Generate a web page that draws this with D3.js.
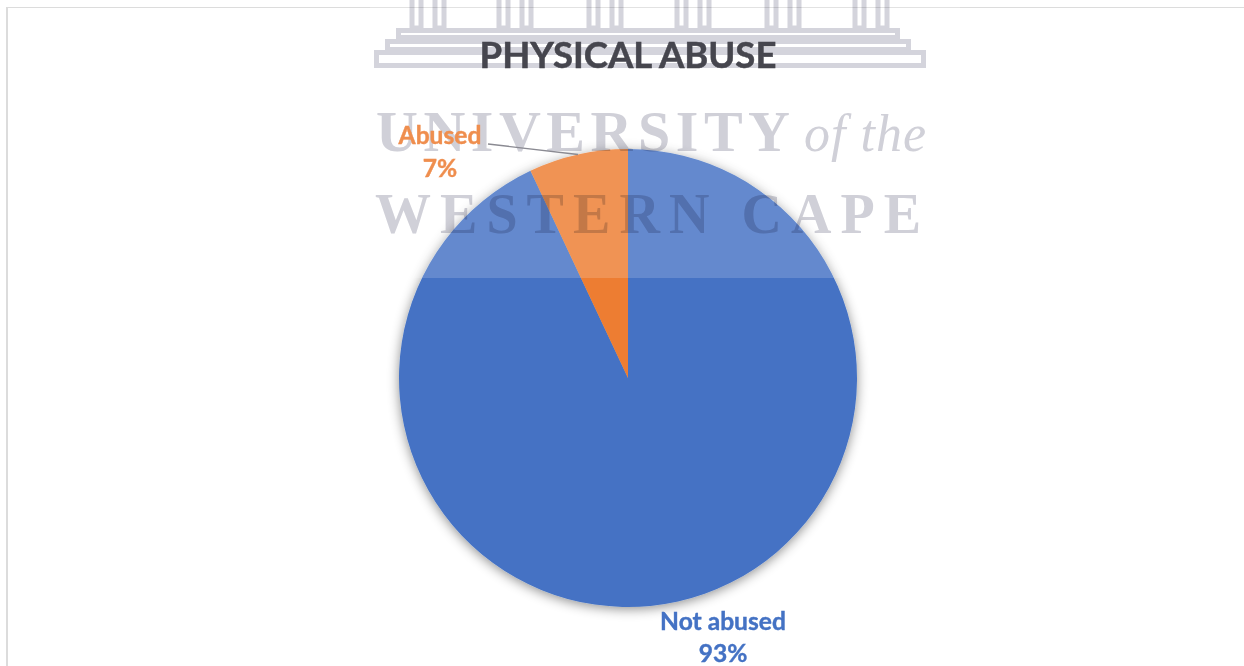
<!DOCTYPE html>
<html>
<head>
<meta charset="utf-8">
<script src="https://cdn.jsdelivr.net/npm/d3@7/dist/d3.min.js"></script>
<style>
  html, body { margin: 0; padding: 0; background: #fff; }
  svg { display: block; }
  text { font-family: Lato, "Open Sans", sans-serif; font-weight: 700; }
</style>
</head>
<body>
<svg id="chart" width="1244" height="666"></svg>
<script>
const categories = ["Not abused", "Abused"];
const percentages = [93, 7];
const sliceColors = ["#4472C4", "#ED7D31"];
const labelColors = ["#4472C4", "#EF8E4E"];
const chartTitle = "PHYSICAL ABUSE";
const crestColumns = [410, 497, 587, 675, 765, 853];
const crestSteps = [[396, 900, 28, 40], [385, 911, 39, 52], [374, 926, 50, 68]];

const svg = d3.select("#chart");
const cx = 628, cy = 378, radius = 229;

const defs = svg.append("defs");
const shadow = defs.append("filter").attr("id", "pieShadow")
  .attr("x", "-10%").attr("y", "-10%").attr("width", "120%").attr("height", "120%");
shadow.append("feDropShadow")
  .attr("dx", 0).attr("dy", 2).attr("stdDeviation", 6)
  .attr("flood-color", "#000").attr("flood-opacity", 0.45);
defs.append("filter").attr("id", "soften")
  .append("feGaussianBlur").attr("stdDeviation", 0.6);

// Chart frame: only the top and left edges fall inside the page
svg.append("rect").attr("x", 6).attr("y", 7).attr("width", 1238).attr("height", 1).attr("fill", "#dcdcdc");
svg.append("rect").attr("x", 6).attr("y", 7).attr("width", 2).attr("height", 659).attr("fill", "#dcdcdc");

// Pie, clockwise from twelve o'clock in data order
const pie = d3.pie().sort(null).value(d => d);
const arcs = pie(percentages);
const arc = d3.arc().innerRadius(0).outerRadius(radius);

const pieGroup = svg.append("g")
  .attr("transform", `translate(${cx},${cy})`)
  .attr("filter", "url(#pieShadow)");
pieGroup.selectAll("path")
  .data(arcs)
  .join("path")
  .attr("d", arc)
  .attr("fill", (d, i) => sliceColors[i]);

// Institutional letterhead lying over the upper part of the page
svg.append("rect").attr("x", 370).attr("y", 0).attr("width", 590).attr("height", 278)
  .attr("fill", "#fff").attr("opacity", 0.17);

const crest = svg.append("g")
  .style("mix-blend-mode", "multiply")
  .attr("filter", "url(#soften)");

const crestStroke = "#d4d4dc";
crestColumns.forEach(x => {
  [0, 23].forEach(dx => {
    crest.append("rect")
      .attr("x", x + dx + 2).attr("y", -4).attr("width", 9).attr("height", 32)
      .attr("fill", "none").attr("stroke", crestStroke).attr("stroke-width", 5);
  });
});
crestSteps.forEach(([x0, x1, y0, y1]) => {
  crest.append("rect")
    .attr("x", x0 + 2.5).attr("y", y0 + 2.5)
    .attr("width", x1 - x0 - 5).attr("height", y1 - y0 - 5)
    .attr("fill", "#fff").attr("stroke", crestStroke).attr("stroke-width", 5);
});

const crestText = (s, x, y, len, size, italic) => crest.append("text")
  .attr("x", x).attr("y", y)
  .attr("textLength", len).attr("lengthAdjust", "spacing")
  .style("font-family", "'Liberation Serif', serif")
  .style("font-weight", italic ? 400 : 700)
  .style("font-style", italic ? "italic" : "normal")
  .style("font-size", size + "px")
  .attr("fill", "#d0d0d8")
  .text(s);

crestText("UNIVERSITY", 376, 151, 414, 58, false);
crestText("of the", 804, 151, 122, 52, true);
crestText("WESTERN CAPE", 375, 233, 546, 56, false);

// Title and data labels
svg.append("text")
  .attr("x", 628).attr("y", 68)
  .attr("text-anchor", "middle")
  .attr("stroke", "#46464e").attr("stroke-width", 0.5)
  .style("font-size", "36.5px")
  .attr("fill", "#46464e")
  .text(chartTitle);

const labelPositions = [[723, 630, 662], [440, 144, 177]];
const labels = svg.append("g").selectAll("text")
  .data(arcs)
  .join("text")
  .attr("text-anchor", "middle")
  .attr("fill", (d, i) => labelColors[i])
  .attr("stroke", (d, i) => labelColors[i])
  .attr("stroke-width", 0.4)
  .style("font-size", "24.6px");
labels.append("tspan")
  .attr("x", (d, i) => labelPositions[i][0])
  .attr("y", (d, i) => labelPositions[i][1])
  .text((d, i) => categories[i]);
labels.append("tspan")
  .attr("x", (d, i) => labelPositions[i][0])
  .attr("y", (d, i) => labelPositions[i][2])
  .text(d => d.data + "%");

// Leader line from the Abused label to the rim of its slice
const abused = arcs[1];
const midAngle = (abused.startAngle + abused.endAngle) / 2;
svg.append("path")
  .attr("d", d3.line()([
    [488, 144],
    [cx + radius * Math.sin(midAngle), cy - radius * Math.cos(midAngle)]
  ]))
  .attr("fill", "none")
  .attr("stroke", "#8a8a92")
  .attr("stroke-width", 1.4);
</script>
</body>
</html>
